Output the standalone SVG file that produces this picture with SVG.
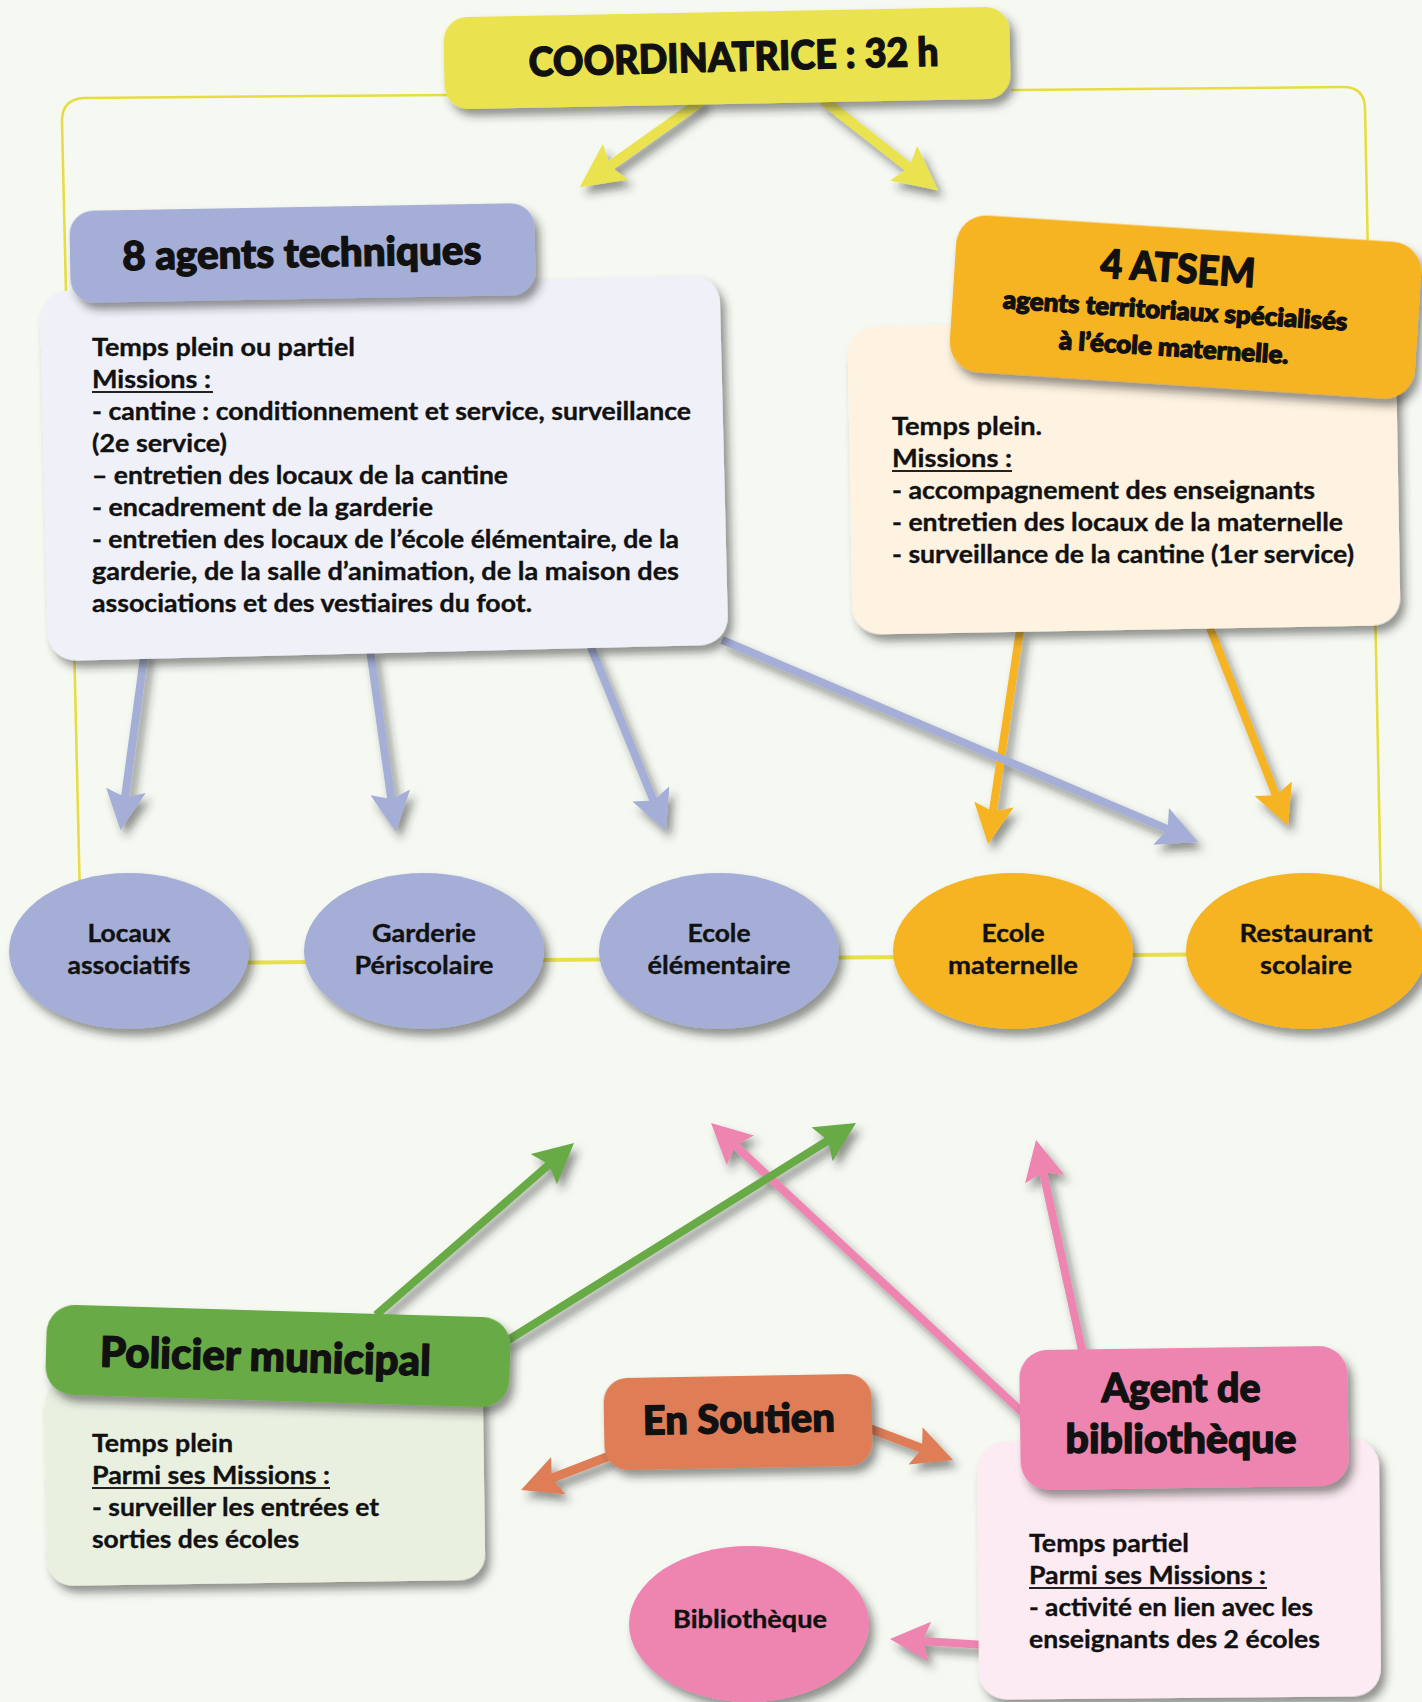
<svg xmlns="http://www.w3.org/2000/svg" width="1422" height="1702" viewBox="0 0 1422 1702">
<style>
.hdr{font-family:Lato,"Liberation Sans",sans-serif;font-weight:900;fill:#111;stroke:#111;stroke-width:1.3;stroke-linejoin:round;text-anchor:middle}
.txt{font-family:Lato,"Liberation Sans",sans-serif;font-weight:700;font-size:24px;fill:#111;stroke:#111;stroke-width:0.35}
.lbl{font-family:Lato,"Liberation Sans",sans-serif;font-weight:700;font-size:24px;fill:#111;stroke:#111;stroke-width:0.35;text-anchor:middle}
.ul{stroke:#222;stroke-width:2}
.sh{filter:url(#sh)}
.frame{fill:none;stroke:#E6DD3E;stroke-width:2.5}
.arr{fill:none;stroke-linecap:butt}
.y{stroke:#EAE34F;stroke-width:10}
.lv{stroke:#A4AED6;stroke-width:8}
.or{stroke:#F6B324;stroke-width:8}
.gr{stroke:#67AA44;stroke-width:8}
.pk{stroke:#EE84B0;stroke-width:8}
.rd{stroke:#DE7D56;stroke-width:9}
</style>
<defs>
<filter id="sh" x="-20%" y="-20%" width="140%" height="150%">
<feDropShadow dx="5" dy="7" stdDeviation="4" flood-color="#2a2a2a" flood-opacity="0.5"/>
</filter>
<marker id="mY" viewBox="0 0 44 44" refX="7" refY="22" markerWidth="44" markerHeight="44" markerUnits="userSpaceOnUse" orient="auto"><path d="M0,0 L44,22 L0,44 L7,22 Z" fill="#EAE34F"/></marker>
<marker id="mL" viewBox="0 0 40 40" refX="7" refY="20" markerWidth="40" markerHeight="40" markerUnits="userSpaceOnUse" orient="auto"><path d="M0,0 L40,20 L0,40 L7,20 Z" fill="#A4AED6"/></marker>
<marker id="mO" viewBox="0 0 40 40" refX="7" refY="20" markerWidth="40" markerHeight="40" markerUnits="userSpaceOnUse" orient="auto"><path d="M0,0 L40,20 L0,40 L7,20 Z" fill="#F6B324"/></marker>
<marker id="mG" viewBox="0 0 40 40" refX="7" refY="20" markerWidth="40" markerHeight="40" markerUnits="userSpaceOnUse" orient="auto"><path d="M0,0 L40,20 L0,40 L7,20 Z" fill="#67AA44"/></marker>
<marker id="mP" viewBox="0 0 40 40" refX="7" refY="20" markerWidth="40" markerHeight="40" markerUnits="userSpaceOnUse" orient="auto"><path d="M0,0 L40,20 L0,40 L7,20 Z" fill="#EE84B0"/></marker>
<marker id="mR" viewBox="0 0 40 40" refX="7" refY="20" markerWidth="40" markerHeight="40" markerUnits="userSpaceOnUse" orient="auto"><path d="M0,0 L40,20 L0,40 L7,20 Z" fill="#DE7D56"/></marker>
</defs>
<rect width="1422" height="1702" fill="#F6F9F2"/>

<g id="connectors">
<path class="frame" d="M449,95 L84,98 Q62,99 62,121 L80,900"/>
<path class="frame" d="M1011,90 L1343,87 Q1365,87 1365,109 L1381,900"/>
<path d="M200,963 L1250,954" fill="none" stroke="#E8E04A" stroke-width="4"/>
<g class="sh">
<path class="arr y" d="M703,100 L609.9,165.9" marker-end="url(#mY)"/>
<path class="arr y" d="M823,100 L909.1,167.6" marker-end="url(#mY)"/>
<path class="arr or" d="M1020,630 L992.9,811.4" marker-end="url(#mO)"/>
<path class="arr or" d="M1210,628 L1275.9,795.3" marker-end="url(#mO)"/>
<path class="arr lv" d="M145,650 L125,797.3" marker-end="url(#mL)"/>
<path class="arr lv" d="M370,650 L391.3,799.3" marker-end="url(#mL)"/>
<path class="arr lv" d="M590,645 L653.5,800.4" marker-end="url(#mL)"/>
<path class="arr lv" d="M722,640 L1167.6,829.1" marker-end="url(#mL)"/>
<path class="arr pk" d="M1022,1412 L735.2,1145.5" marker-end="url(#mP)"/>
<path class="arr pk" d="M1082,1350 L1043.1,1172.2" marker-end="url(#mP)"/>
<path class="arr pk" d="M985,1645 L922.9,1641.1" marker-end="url(#mP)"/>
<path class="arr gr" d="M376,1315 L549.1,1164.6" marker-end="url(#mG)"/>
<path class="arr gr" d="M505,1342 L828,1140.5" marker-end="url(#mG)"/>
<path class="arr rd" d="M612,1455 L551.8,1478.2" marker-end="url(#mR)"/>
<path class="arr rd" d="M868,1428 L922.1,1448.4" marker-end="url(#mR)"/>
</g>
</g>

<g id="coordinatrice">
<rect class="sh" x="444" y="12" width="566" height="92" rx="24" fill="#EAE34F" transform="rotate(-1.1 727 58)"/>
<text class="hdr" x="734" y="71" font-size="40" textLength="410" lengthAdjust="spacingAndGlyphs" transform="rotate(-1.5 734 71)">COORDINATRICE : 32 h</text>
</g>

<g id="agents-techniques">
<rect class="sh" x="44" y="283" width="680" height="370" rx="28" fill="#EFF0F8" transform="rotate(-1.4 384 468)"/>
<rect class="sh" x="70" y="207" width="465" height="92" rx="24" fill="#A4AED6" transform="rotate(-1 302 253)"/>
<text class="hdr" x="302" y="267" font-size="40" textLength="359" lengthAdjust="spacingAndGlyphs" transform="rotate(-1 302 267)">8 agents techniques</text>
<text class="txt" x="92" y="356" textLength="263" lengthAdjust="spacingAndGlyphs">Temps plein ou partiel</text>
<text class="txt" x="92" y="388" textLength="119" lengthAdjust="spacingAndGlyphs">Missions :</text>
<line class="ul" x1="92" y1="392" x2="213" y2="392"/>
<text class="txt" x="92" y="420" textLength="599" lengthAdjust="spacingAndGlyphs">- cantine : conditionnement et service, surveillance</text>
<text class="txt" x="92" y="452" textLength="135" lengthAdjust="spacingAndGlyphs">(2e service)</text>
<text class="txt" x="92" y="484" textLength="416" lengthAdjust="spacingAndGlyphs">– entretien des locaux de la cantine</text>
<text class="txt" x="92" y="516" textLength="341" lengthAdjust="spacingAndGlyphs">- encadrement de la garderie</text>
<text class="txt" x="92" y="548" textLength="587" lengthAdjust="spacingAndGlyphs">- entretien des locaux de l’école élémentaire, de la</text>
<text class="txt" x="92" y="580" textLength="587" lengthAdjust="spacingAndGlyphs">garderie, de la salle d’animation, de la maison des</text>
<text class="txt" x="92" y="612" textLength="440" lengthAdjust="spacingAndGlyphs">associations et des vestiaires du foot.</text>
</g>

<g id="atsem">
<rect class="sh" x="850" y="322" width="548" height="308" rx="28" fill="#FEF2E0" transform="rotate(-1 1124 476)"/>
<g transform="translate(1185.5 307) rotate(3.7)">
<rect class="sh" x="-233" y="-78.5" width="466" height="157" rx="30" fill="#F6B324"/>
<text class="hdr" x="-10" y="-24" font-size="40" textLength="155" lengthAdjust="spacingAndGlyphs">4 ATSEM</text>
<text class="hdr" x="-10" y="13" font-size="25" stroke-width="0.45" textLength="345" lengthAdjust="spacingAndGlyphs">agents territoriaux spécialisés</text>
<text class="hdr" x="-9" y="50" font-size="25" stroke-width="0.45" textLength="230" lengthAdjust="spacingAndGlyphs">à l’école maternelle.</text>
</g>
<text class="txt" x="892" y="435" textLength="150" lengthAdjust="spacingAndGlyphs">Temps plein.</text>
<text class="txt" x="892" y="467" textLength="120" lengthAdjust="spacingAndGlyphs">Missions :</text>
<line class="ul" x1="892" y1="471" x2="1012" y2="471"/>
<text class="txt" x="892" y="499" textLength="423" lengthAdjust="spacingAndGlyphs">- accompagnement des enseignants</text>
<text class="txt" x="892" y="531" textLength="451" lengthAdjust="spacingAndGlyphs">- entretien des locaux de la maternelle</text>
<text class="txt" x="892" y="563" textLength="462" lengthAdjust="spacingAndGlyphs">- surveillance de la cantine (1er service)</text>
</g>

<g id="locaux-associatifs">
<ellipse class="sh" cx="129" cy="951" rx="120" ry="78" fill="#A4AED6"/>
<text class="lbl" x="129" y="942" textLength="83" lengthAdjust="spacingAndGlyphs">Locaux</text>
<text class="lbl" x="129" y="974" textLength="123" lengthAdjust="spacingAndGlyphs">associatifs</text>
</g>
<g id="garderie-periscolaire">
<ellipse class="sh" cx="424" cy="951" rx="120" ry="78" fill="#A4AED6"/>
<text class="lbl" x="424" y="942" textLength="104" lengthAdjust="spacingAndGlyphs">Garderie</text>
<text class="lbl" x="424" y="974" textLength="139" lengthAdjust="spacingAndGlyphs">Périscolaire</text>
</g>
<g id="ecole-elementaire">
<ellipse class="sh" cx="719" cy="951" rx="120" ry="78" fill="#A4AED6"/>
<text class="lbl" x="719" y="942" textLength="63" lengthAdjust="spacingAndGlyphs">Ecole</text>
<text class="lbl" x="719" y="974" textLength="143" lengthAdjust="spacingAndGlyphs">élémentaire</text>
</g>
<g id="ecole-maternelle">
<ellipse class="sh" cx="1013" cy="951" rx="120" ry="78" fill="#F6B324"/>
<text class="lbl" x="1013" y="942" textLength="63" lengthAdjust="spacingAndGlyphs">Ecole</text>
<text class="lbl" x="1013" y="974" textLength="130" lengthAdjust="spacingAndGlyphs">maternelle</text>
</g>
<g id="restaurant-scolaire">
<ellipse class="sh" cx="1306" cy="951" rx="120" ry="78" fill="#F6B324"/>
<text class="lbl" x="1306" y="942" textLength="133" lengthAdjust="spacingAndGlyphs">Restaurant</text>
<text class="lbl" x="1306" y="974" textLength="92" lengthAdjust="spacingAndGlyphs">scolaire</text>
</g>

<g id="policier-municipal">
<rect class="sh" x="46" y="1375" width="438" height="208" rx="26" fill="#E9F0E0" transform="rotate(-0.8 265 1479)"/>
<rect class="sh" x="46" y="1311" width="464" height="90" rx="28" fill="#67AA44" transform="rotate(1.7 278 1356)"/>
<text class="hdr" x="265" y="1371" font-size="42" textLength="331" lengthAdjust="spacingAndGlyphs" transform="rotate(1.6 265 1371)">Policier municipal</text>
<text class="txt" x="92" y="1452" textLength="141" lengthAdjust="spacingAndGlyphs">Temps plein</text>
<text class="txt" x="92" y="1484" textLength="238" lengthAdjust="spacingAndGlyphs">Parmi ses Missions :</text>
<line class="ul" x1="92" y1="1488" x2="330" y2="1488"/>
<text class="txt" x="92" y="1516" textLength="287" lengthAdjust="spacingAndGlyphs">- surveiller les entrées et</text>
<text class="txt" x="92" y="1548" textLength="207" lengthAdjust="spacingAndGlyphs">sorties des écoles</text>
</g>

<g id="en-soutien">
<rect class="sh" x="604" y="1376" width="268" height="92" rx="24" fill="#DE7D56" transform="rotate(-1 738 1422)"/>
<text class="hdr" x="739" y="1433" font-size="40" textLength="192" lengthAdjust="spacingAndGlyphs" transform="rotate(-1 739 1433)">En Soutien</text>
</g>

<g id="agent-bibliotheque">
<rect class="sh" x="978" y="1440" width="402" height="258" rx="28" fill="#FCEBF2" transform="rotate(-0.5 1179 1569)"/>
<rect class="sh" x="1020" y="1348" width="328" height="140" rx="28" fill="#EE84B0" transform="rotate(-0.8 1184 1418)"/>
<text class="hdr" x="1181" y="1402" font-size="40" textLength="159" lengthAdjust="spacingAndGlyphs">Agent de</text>
<text class="hdr" x="1181" y="1453" font-size="40" textLength="231" lengthAdjust="spacingAndGlyphs">bibliothèque</text>
<text class="txt" x="1029" y="1552" textLength="160" lengthAdjust="spacingAndGlyphs">Temps partiel</text>
<text class="txt" x="1029" y="1584" textLength="237" lengthAdjust="spacingAndGlyphs">Parmi ses Missions :</text>
<line class="ul" x1="1029" y1="1588" x2="1267" y2="1588"/>
<text class="txt" x="1029" y="1616" textLength="284" lengthAdjust="spacingAndGlyphs">- activité en lien avec les</text>
<text class="txt" x="1029" y="1648" textLength="291" lengthAdjust="spacingAndGlyphs">enseignants des 2 écoles</text>
</g>

<g id="bibliotheque">
<ellipse class="sh" cx="749" cy="1624" rx="120" ry="78" fill="#EE84B0"/>
<text class="lbl" x="750" y="1628" textLength="154" lengthAdjust="spacingAndGlyphs">Bibliothèque</text>
</g>
</svg>
